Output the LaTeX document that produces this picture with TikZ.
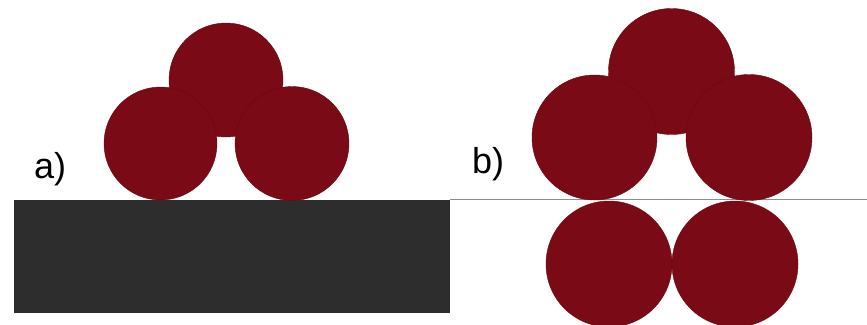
\documentclass[tikz,border=0pt]{standalone}
\usepackage{fontspec}
\setmainfont{Liberation Sans}
\definecolor{ballred}{RGB}{122,10,21}
\definecolor{slab}{RGB}{45,45,45}
\definecolor{rule}{RGB}{140,140,140}
\tikzset{
  ball/.style={circle, fill=ballred, draw=ballred!85!black, line width=0.4pt, inner sep=0pt, minimum size=#1},
  panellabel/.style={anchor=base west, inner sep=0pt, font=\fontsize{36}{36}\selectfont}
}
\begin{document}
\begin{tikzpicture}[x=1pt, y=-1pt]
  \useasboundingbox (0,0) rectangle (867,324);
  \clip (0,0) rectangle (867,324);

  % panel a: three spheres resting on a solid wall
  \fill[slab] (14,200) rectangle (450,313);
  \node[ball=114pt] (at) at (226,80) {};
  \node[ball=113pt] (al) at (160.5,143.5) {};
  \node[ball=114pt] (ar) at (292,143.5) {};
  \node[panellabel] (la) at (34,178) {a)};

  % panel b: same cluster mirrored about the symmetry plane
  \coordinate (pl) at (450,199.5);
  \coordinate (pr) at (867,199.5);
  \draw[rule, line width=1.8pt] (pl) -- (pr);
  \node[ball=126pt] (bt) at (671.5,71.5) {};
  \node[ball=125pt] (bl) at (594.5,137.5) {};
  \node[ball=126pt] (br) at (749,137.5) {};
  \node[ball=126pt] (bbl) at (609,264) {};
  \node[ball=126pt] (bbr) at (735,264) {};
  \node[panellabel] (lb) at (472,173) {b)};
\end{tikzpicture}
\end{document}
